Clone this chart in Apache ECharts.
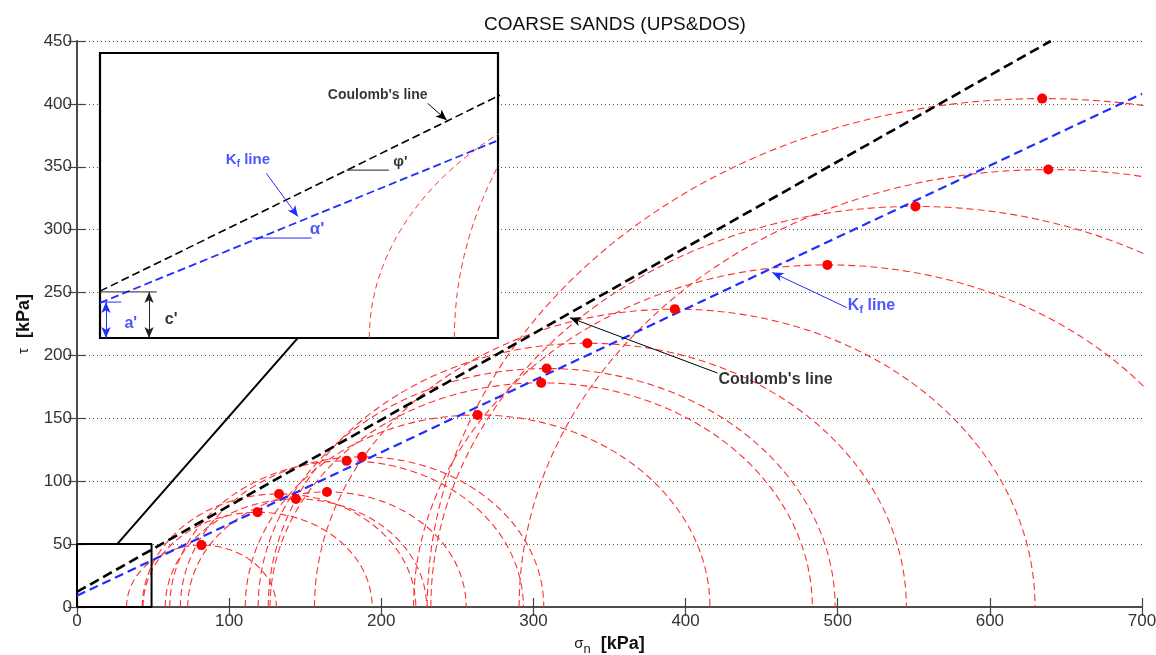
<!DOCTYPE html>
<html>
<head>
<meta charset="utf-8">
<title>COARSE SANDS (UPS&DOS)</title>
<script src="https://cdn.jsdelivr.net/npm/echarts@6/dist/echarts.min.js"></script>
<style>
  html, body { margin: 0; padding: 0; background: #fff; }
  #chart { width: 1156px; height: 655px; }
</style>
</head>
<body>
<div id="chart"></div>
<script>
// Mohr circles at failure: centre p' and radius q (kPa), the red dots sit on top
const circleP = [81.8, 118.7, 132.8, 143.9, 164.3, 177.2, 187.4, 263.3, 305.1, 308.7, 335.4, 392.9, 493.2, 551.1, 634.4, 638.4]
const circleQ = [49.2, 75.3, 89.9, 85.9, 91.5, 116.2, 119.4, 152.7, 178.2, 189.6, 209.7, 236.8, 272.0, 318.5, 404.2, 347.8]

// envelopes, two end points each (sigma, tau)
const coulombLine = [[0, 12], [640, 450]]
const kfLine = [[0, 9], [700, 408]]

// axis ticks
const xTicks = [0, 100, 200, 300, 400, 500, 600, 700]
const yTicks = [0, 50, 100, 150, 200, 250, 300, 350, 400, 450]

// zoom window and its leader line (main axes)
const zoomBox = [[0, 0], [49, 0], [49, 50], [0, 50], [0, 0]]
const leaderLine = [[26.4, 50], [145.2, 214]]

// inset (schematic close-up) : arcs centre/radius and its axis range
const insetArcP = [119, 190]
const insetArcQ = [69.6, 125]
const insetRange = [0, 73]

const FONT = '"Liberation Sans", Arial, Helvetica, sans-serif'
const RED = '#ff3030'
const BLUE = '#1f2dff'

// upper half of a circle, sampled along the angle
function mohrArc(p, q) {
  const pts = []
  for (let k = 0; k <= 240; k++) {
    const t = Math.PI * (1 - k / 240)
    pts.push([p + q * Math.cos(t), q * Math.sin(t)])
  }
  return pts
}

function dashed(data, color, width, dash, axis, z) {
  return {
    type: 'line',
    data: data,
    xAxisIndex: axis,
    yAxisIndex: axis,
    showSymbol: false,
    symbol: 'none',
    clip: true,
    silent: true,
    z: z,
    lineStyle: { color: color, width: width, type: dash },
  }
}

function note(text, pos, style) {
  return {
    name: text,
    value: pos,
    label: Object.assign({ show: true, position: 'right', distance: 1, formatter: text, fontFamily: FONT }, style),
  }
}

function arrow(from, to, color, both) {
  return [
    { coord: from, symbol: both ? 'arrow' : 'none', lineStyle: { color: color, width: 1, type: 'solid' } },
    { coord: to, symbol: 'arrow' },
  ]
}

function arrows(list, z) {
  return {
    silent: true,
    animation: false,
    z: z,
    symbolSize: [7, 11],
    label: { show: false },
    data: list,
  }
}

const kfRich = function (size, color) {
  return {
    k: { fontSize: size, fontWeight: 'bold', color: color, fontFamily: FONT },
    f: { fontSize: size - 5, fontWeight: 'bold', color: color, fontFamily: FONT, padding: [size - 6, 0, 0, 0] },
  }
}

const series = []

// red Mohr circles
circleP.forEach((p, i) => {
  series.push(dashed(mohrArc(p, circleQ[i]), RED, 1.1, [7, 4], 0, 2))
})

// zoom box and leader
series.push(dashed(leaderLine, '#000', 2, 'solid', 0, 3))
series.push(dashed(zoomBox, '#000', 2, 'solid', 0, 4))

// envelopes
series.push(dashed(coulombLine, '#000', 2.6, [10, 5], 0, 5))
const kfSeries = dashed(kfLine, BLUE, 2.2, [9, 5], 0, 5)
kfSeries.markLine = arrows([
  arrow([421, 186], [324, 230], '#000'),
  arrow([506, 238], [457, 266], BLUE),
], 6)
series.push(kfSeries)

// tops of the circles
series.push({
  type: 'scatter',
  data: circleP.map((p, i) => [p, circleQ[i]]),
  symbolSize: 10,
  itemStyle: { color: '#ff0000', opacity: 1 },
  silent: true,
  z: 6,
})

// main labels
series.push({
  type: 'scatter',
  symbolSize: 0,
  silent: true,
  z: 7,
  data: [
    note("Coulomb's line", [421, 181], { fontSize: 16, fontWeight: 'bold', color: '#000' }),
    note('{k|K}{f|f}{k| line}', [506, 240], { rich: kfRich(16, BLUE) }),
  ],
})

// ---- inset ----
insetArcP.forEach((p, i) => {
  series.push(dashed(mohrArc(p, insetArcQ[i]), RED, 1, [6, 4], 2, 12))
})
series.push(dashed(coulombLine, '#000', 1.6, [8, 4], 2, 13))
const insetKf = dashed(kfLine, BLUE, 1.8, [8, 4], 2, 13)
insetKf.markLine = arrows([
  arrow([60.1, 60.1], [63.6, 55.8], '#000'),
  arrow([30.5, 42.2], [36.3, 31.1], BLUE),
  arrow([1.1, 9.2], [1.1, 0], BLUE, true),
  arrow([9.0, 11.8], [9.0, 0], '#222', true),
], 15)
series.push(insetKf)
series.push(dashed([[45.2, 43], [53, 43]], '#222', 1, 'solid', 2, 13))
series.push(dashed([[28, 25.6], [38.8, 25.6]], BLUE, 1, 'solid', 2, 13))
series.push(dashed([[0, 11.8], [10.4, 11.8]], '#222', 1, 'solid', 2, 13))
series.push(dashed([[0, 9.2], [3.9, 9.2]], BLUE, 1, 'solid', 2, 13))
series.push({
  type: 'scatter',
  xAxisIndex: 2,
  yAxisIndex: 2,
  symbolSize: 0,
  silent: true,
  z: 14,
  data: [
    note("Coulomb's line", [41.6, 62.2], { fontSize: 14, fontWeight: 'bold', color: '#000' }),
    note('{k|K}{f|f}{k| line}', [22.9, 45.6], { rich: kfRich(15, BLUE) }),
    note("φ'", [53.6, 45.2], { fontSize: 15, fontWeight: 'bold', color: '#000' }),
    note("α'", [38.3, 27.9], { fontSize: 17, fontWeight: 'bold', color: BLUE }),
    note("a'", [4.3, 3.8], { fontSize: 16, fontWeight: 'bold', color: BLUE }),
    note("c'", [11.7, 4.6], { fontSize: 16, fontWeight: 'bold', color: '#000' }),
  ],
})

const axisColor = '#444'
const tickStyle = { inside: true, length: 9, lineStyle: { color: axisColor, width: 1.2 } }
const lineStyle = { lineStyle: { color: axisColor, width: 1.6 } }
const xRange = { min: xTicks[0], max: xTicks[xTicks.length - 1], interval: xTicks[1] - xTicks[0] }
const yRange = { min: yTicks[0], max: yTicks[yTicks.length - 1], interval: yTicks[1] - yTicks[0] }

const option = {
  animation: false,
  backgroundColor: '#fff',
  title: {
    text: 'COARSE SANDS (UPS&DOS)',
    left: 610,
    top: 10,
    textAlign: 'center',
    textStyle: { fontFamily: FONT, fontSize: 19, fontWeight: 'normal', color: '#111' },
  },
  grid: [
    { left: 77, top: 41, width: 1065, height: 566, outerBoundsMode: 'none', containLabel: false },
    {
      left: 100, top: 53, width: 398, height: 285, outerBoundsMode: 'none', containLabel: false,
      show: true, backgroundColor: '#fff', borderColor: '#000', borderWidth: 2.2, z: 10,
    },
  ],
  xAxis: [
    Object.assign({
      type: 'value', gridIndex: 0, position: 'bottom',
      axisLine: lineStyle, axisTick: tickStyle, splitLine: { show: false },
      axisLabel: { color: '#333', fontSize: 17, margin: 6, fontFamily: FONT },
      name: '{s|σ}{n|n}   {b|[kPa]}',
      nameLocation: 'middle',
      nameGap: 24,
      nameTextStyle: {
        rich: {
          s: { fontSize: 15, color: '#222', fontFamily: FONT },
          n: { fontSize: 13, color: '#222', fontFamily: FONT, padding: [11, 0, 0, 0] },
          b: { fontSize: 18, fontWeight: 'bold', color: '#111', fontFamily: FONT },
        },
      },
    }, xRange),
    Object.assign({
      type: 'value', gridIndex: 0, position: 'top',
      axisLine: lineStyle, axisTick: tickStyle, axisLabel: { show: false }, splitLine: { show: false },
    }, xRange),
    { type: 'value', gridIndex: 1, min: insetRange[0], max: insetRange[1], show: false, splitLine: { show: false } },
  ],
  yAxis: [
    Object.assign({
      type: 'value', gridIndex: 0, position: 'left',
      axisLine: lineStyle, axisTick: tickStyle,
      axisLabel: { color: '#333', fontSize: 17, margin: 5, fontFamily: FONT },
      splitLine: { show: true, lineStyle: { color: '#555', width: 1, type: [1, 3] } },
      name: '{t|τ}   {b|[kPa]}',
      nameLocation: 'middle',
      nameGap: 44,
      nameTextStyle: {
        rich: {
          t: { fontSize: 15, color: '#222', fontFamily: FONT },
          b: { fontSize: 18, fontWeight: 'bold', color: '#111', fontFamily: FONT },
        },
      },
    }, yRange),
    Object.assign({
      type: 'value', gridIndex: 0, position: 'right',
      axisLine: lineStyle, axisTick: tickStyle, axisLabel: { show: false }, splitLine: { show: false },
    }, yRange),
    { type: 'value', gridIndex: 1, min: insetRange[0], max: insetRange[1], show: false, splitLine: { show: false } },
  ],
  series: series,
}

const chart = echarts.init(document.getElementById('chart'))
chart.setOption(option)
window.addEventListener('resize', () => chart.resize())
</script>
</body>
</html>
